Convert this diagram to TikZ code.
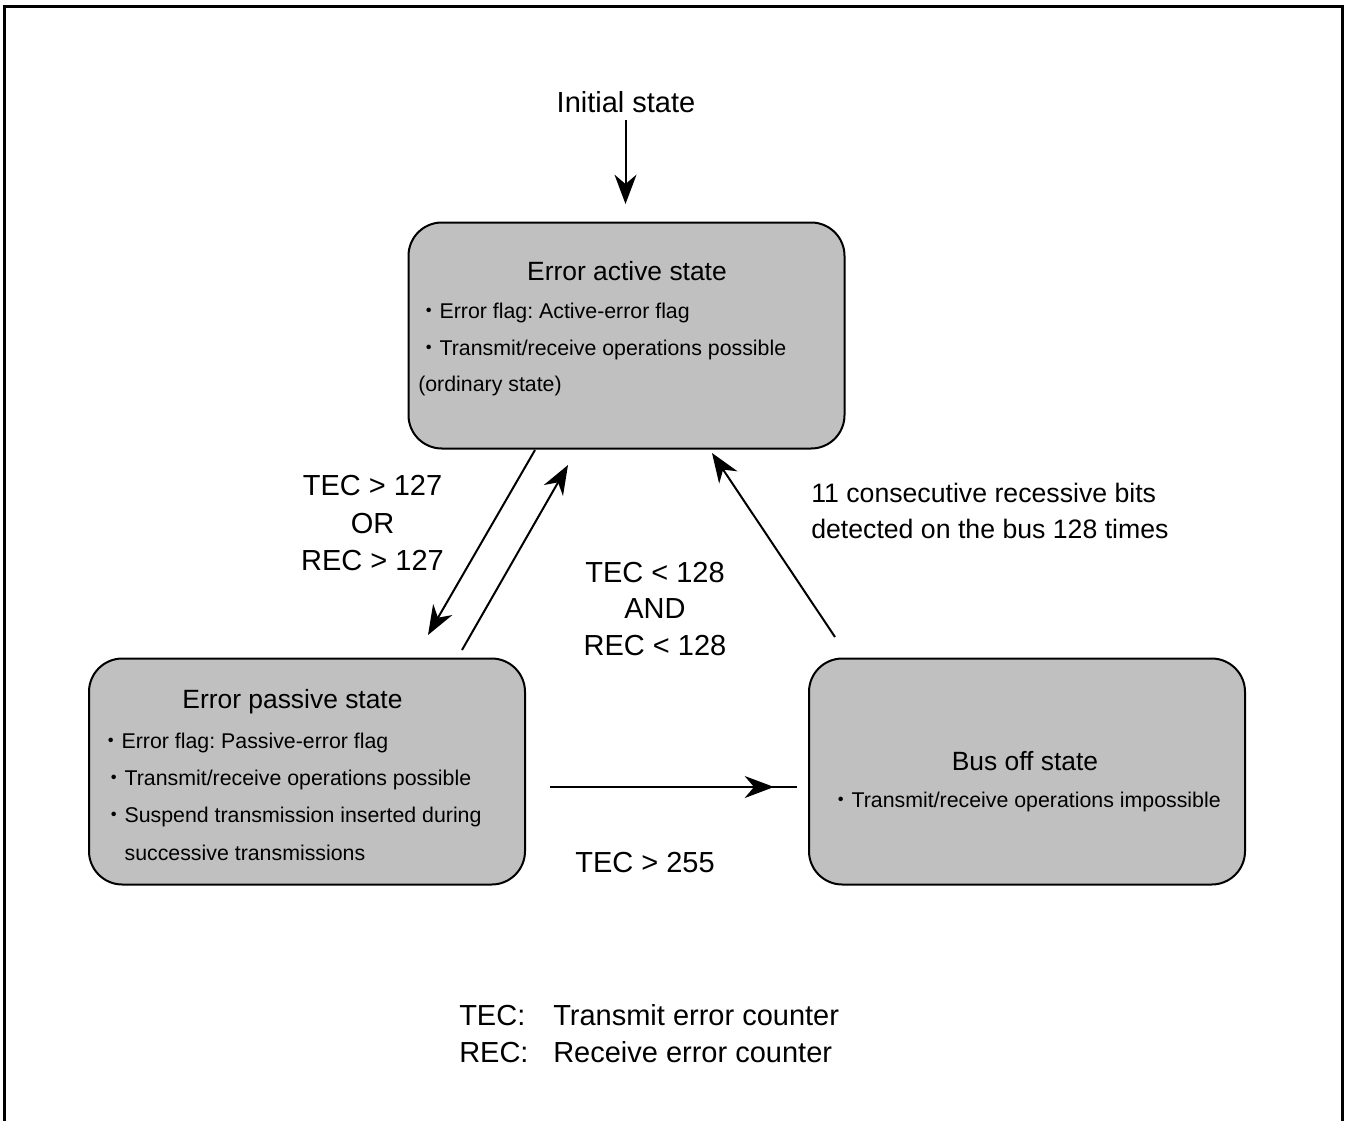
\documentclass[tikz,border=0pt]{standalone}
\usepackage{fontspec}
\setmainfont{Liberation Sans}
\newfontfamily\cjk{Noto Sans CJK JP}
\usetikzlibrary{arrows.meta}
\definecolor{boxgray}{RGB}{192,192,192}
\newcommand{\bul}{{\cjk ・}}
\frenchspacing
\tikzset{
  statebox/.style={draw=black, line width=1.5pt, fill=boxgray, rounded corners=25pt,
    inner sep=0pt, outer sep=0pt, minimum width=327pt, minimum height=169.5pt},
  bigtxt/.style={inner sep=0pt, anchor=base, font=\fontsize{21.75}{26}\selectfont},
  titletxt/.style={inner sep=0pt, anchor=base, font=\fontsize{19.8}{24}\selectfont},
  bultxt/.style={inner sep=0pt, anchor=base west, font=\fontsize{16}{20}\selectfont},
  notetxt/.style={inner sep=0pt, anchor=base west, font=\fontsize{20}{24}\selectfont},
  legtxt/.style={inner sep=0pt, anchor=base west, font=\fontsize{21.75}{26}\selectfont},
  conn/.style={line width=1.5pt, -{Stealth[length=22pt,width=16.5pt,inset=7pt]}},
  plainline/.style={line width=1.5pt}
}
\begin{document}
\frenchspacing
\begin{tikzpicture}[x=0.75pt,y=-0.75pt]
\useasboundingbox (0,0) rectangle (1348,1120);
% outer frame
\draw[line width=2.25pt] (4.5,1130) -- (4.5,6.5) -- (1342.5,6.5) -- (1342.5,1130);

% boxes
\node[statebox] (active) at (626.5,335.5) {};
\node[statebox] (passive) at (307,771.5) {};
\node[statebox] (busoff) at (1027,771.5) {};

% initial state
\node[bigtxt] (init) at (626,113) {Initial state};
\coordinate (initA) at (625.5,120);
\coordinate (initB) at (625.5,204);
\draw[conn] (initA) -- (initB);

% active box text
\node[titletxt] (actT) at (627,280) {Error active state};
\node[bultxt] (act1) at (418,318) {\bul Error flag: Active-error flag};
\node[bultxt] (act2) at (418,355) {\bul Transmit/receive operations possible};
\node[bultxt] (act3) at (418,391) {(ordinary state)};

% passive box text
\node[titletxt] (pasT) at (292.5,708) {Error passive state};
\node[bultxt] (pas1) at (100,748) {\bul Error flag: Passive-error flag};
\node[bultxt] (pas2) at (103,785) {\bul Transmit/receive operations possible};
\node[bultxt] (pas3) at (103,822) {\bul Suspend transmission inserted during};
\node[bultxt] (pas4) at (103,860) {\hspace*{1em}successive transmissions};

% bus off box text
\node[titletxt] (busT) at (1025,770) {Bus off state};
\node[bultxt] (bus1) at (830,807) {\bul Transmit/receive operations impossible};

% connectors
\coordinate (apA) at (535,450);
\coordinate (apB) at (428,635);
\draw[conn] (apA) -- (apB);
\coordinate (paA) at (462,650);
\coordinate (paB) at (568,465);
\draw[conn] (paA) -- (paB);
\coordinate (baA) at (835,637);
\coordinate (baB) at (712,453);
\draw[conn] (baA) -- (baB);
\coordinate (pbA) at (550,787);
\coordinate (pbB) at (797,787);
\coordinate (pbTip) at (774,787);
\draw[plainline] (pbA) -- (pbB);
\draw[conn] (pbA) -- (pbTip);

% condition labels
\node[bigtxt] (c1a) at (372.5,495) {TEC > 127};
\node[bigtxt] (c1b) at (372.5,533) {OR};
\node[bigtxt] (c1c) at (372.5,570) {REC > 127};
\node[bigtxt] (c2a) at (655,582) {TEC < 128};
\node[bigtxt] (c2b) at (655,618) {AND};
\node[bigtxt] (c2c) at (655,655) {REC < 128};
\node[notetxt] (c3a) at (811,502) {11 consecutive recessive bits};
\node[notetxt] (c3b) at (811,538) {detected on the bus 128 times};
\node[bigtxt] (c4) at (645,872) {TEC > 255};

% legend
\node[legtxt] (l1a) at (459,1025) {TEC:};
\node[legtxt] (l1b) at (553,1025) {Transmit error counter};
\node[legtxt] (l2a) at (459,1062) {REC:};
\node[legtxt] (l2b) at (553,1062) {Receive error counter};
\end{tikzpicture}
\end{document}
